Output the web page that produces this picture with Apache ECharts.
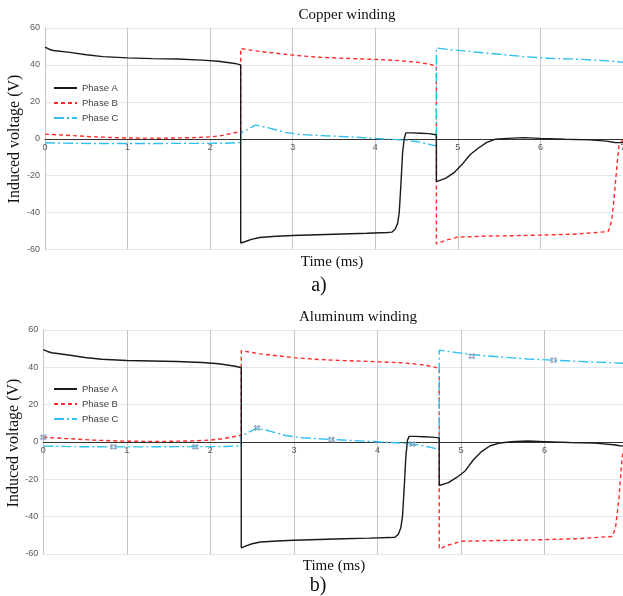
<!DOCTYPE html>
<html><head><meta charset="utf-8">
<script src="https://cdn.jsdelivr.net/npm/echarts@6/dist/echarts.min.js"></script>
<style>html,body{margin:0;padding:0;background:#fff}#c{width:623px;height:596px}</style>
</head><body><div id="c"></div>
<script>
// ---- data (time ms, voltage V) ----
const xTicks = [0,1,2,3,4,5,6,7];
const yTicks = [-60,-40,-20,0,20,40,60];
const seriesNames = ['Phase A','Phase B','Phase C'];

const copperA = [[0,49.7],[0.05,48.5],[0.1,47.8],[0.3,46.8],[0.5,45.5],[0.7,44.5],[1,43.8],[1.3,43.4],[1.6,43.2],[1.9,42.6],[2.1,42],[2.3,40.8],[2.37,40],[2.37,-56.5],[2.42,-55.8],[2.5,-54.5],[2.6,-53.5],[2.8,-52.8],[3,-52.4],[3.3,-52],[3.6,-51.6],[3.9,-51.2],[4.15,-50.8],[4.2,-50.6],[4.24,-49],[4.27,-46],[4.29,-40],[4.31,-25],[4.33,-8],[4.35,0],[4.37,3.2],[4.45,3.2],[4.55,3],[4.65,2.8],[4.74,2.2],[4.74,-23.2],[4.85,-21.5],[4.95,-18.5],[5.05,-14],[5.15,-8.5],[5.25,-5],[5.35,-2],[5.45,-0.3],[5.6,0.2],[5.8,0.6],[6,0.2],[6.3,-0.3],[6.6,-0.6],[6.8,-1.3],[6.9,-2],[7,-2.1]];
const copperB = [[0,2.5],[0.3,1.8],[0.6,1],[1,0.4],[1.4,0.3],[1.8,0.6],[2.0,1],[2.15,1.8],[2.25,2.8],[2.37,4],[2.37,48.8],[2.6,47.3],[3,45.3],[3.3,44.2],[3.6,43.6],[4,43],[4.3,42.3],[4.5,41.5],[4.65,40.5],[4.74,39.3],[4.74,-57],[4.85,-55],[5,-53.3],[5.3,-52.8],[5.7,-52.5],[6,-52.2],[6.4,-51.7],[6.82,-50.3],[6.86,-45],[6.89,-33],[6.92,-18],[6.95,-4],[6.98,-1.5],[7,-1]];
const copperC = [[0,-2.2],[0.4,-2.5],[0.8,-2.6],[1.2,-2.6],[1.6,-2.5],[2,-2.5],[2.2,-2.4],[2.37,-2],[2.37,3],[2.45,5],[2.55,7.4],[2.7,6],[2.9,3.5],[3.1,2.3],[3.4,1.6],[3.7,1],[4,0.2],[4.3,-0.6],[4.5,-1.5],[4.65,-3],[4.74,-4],[4.74,49.2],[4.9,48.3],[5.2,47],[5.5,45.8],[5.8,44.5],[6.1,43.6],[6.5,43],[6.8,42.2],[7,41.5]];

const aluA = [[0,49.5],[0.05,48.5],[0.1,47.8],[0.3,46.6],[0.5,45.3],[0.7,44.3],[1,43.7],[1.3,43.4],[1.6,43.1],[1.9,42.6],[2.1,41.9],[2.3,40.6],[2.37,39.8],[2.37,-56.7],[2.42,-55.8],[2.5,-54.5],[2.6,-53.6],[2.8,-53],[3,-52.6],[3.3,-52.2],[3.6,-51.8],[3.9,-51.5],[4.15,-51.2],[4.21,-51],[4.25,-49.5],[4.28,-46],[4.3,-40],[4.32,-25],[4.34,-8],[4.36,1],[4.38,3],[4.45,3],[4.55,2.8],[4.65,2.6],[4.74,2.2],[4.74,-23.3],[4.85,-21.8],[4.95,-19],[5.05,-15.5],[5.15,-9.5],[5.25,-5],[5.35,-2],[5.47,-0.5],[5.6,0.1],[5.8,0.5],[6,0.2],[6.3,-0.3],[6.6,-0.6],[6.83,-1.5],[6.9,-2],[7,-2.2]];
const aluB = [[0,2.5],[0.3,1.8],[0.6,1],[1,0.4],[1.4,0.3],[1.8,0.6],[2.0,1],[2.15,1.8],[2.25,2.6],[2.37,3.6],[2.37,48.9],[2.6,47.2],[3,45.2],[3.3,44.2],[3.6,43.6],[4,43],[4.3,42.4],[4.5,41.6],[4.65,40.5],[4.74,39.4],[4.74,-57.3],[4.85,-55.2],[5,-53.2],[5.3,-52.9],[5.7,-52.6],[6,-52.3],[6.4,-51.8],[6.81,-50.6],[6.85,-46],[6.89,-31],[6.93,-8],[6.96,-2],[7,-1]];
const aluC = [[0,-2.2],[0.4,-2.5],[0.8,-2.6],[1.2,-2.6],[1.6,-2.5],[2,-2.5],[2.2,-2.4],[2.37,-2],[2.37,3],[2.45,5],[2.56,7.5],[2.7,6],[2.9,3.5],[3.1,2.3],[3.45,1.3],[3.7,0.8],[4,0.1],[4.3,-0.6],[4.5,-1.6],[4.65,-3],[4.74,-4],[4.74,49.2],[4.9,48.2],[5.13,46.8],[5.5,45.5],[5.8,44.5],[6.11,43.8],[6.5,43],[6.8,42.5],[7,42]];
const aluMarkers = [[0,2.5],[0.84,-2.6],[1.82,-2.6],[2.56,7.5],[3.45,1.3],[4.42,-1.1],[5.13,46],[6.11,43.8]];

// ---- chart ----
const colA = '#1a1a1a', colB = '#ff2b2b', colC = '#2fc0f0';
const serif = "'Liberation Serif', 'DejaVu Serif', serif";
const sans = "'Liberation Sans', Arial, sans-serif";
const gridDefs = [
  {left:45, top:28, width:578, height:221.5},
  {left:43.3, top:330, width:584.7, height:224}
];

function xAx(gi){
  return {type:'value', gridIndex:gi, min:xTicks[0], max:xTicks[xTicks.length-1], interval:1,
    position:'bottom', offset:-gridDefs[gi].height/2,
    axisLine:{onZero:false, lineStyle:{color:'#333', width:1}},
    axisTick:{show:false},
    axisLabel:{fontSize:9, color:'#595959', fontFamily:sans, margin:4, showMaxLabel:true},
    splitLine:{show:true, lineStyle:{color:'#c6c6c6', width:1}}};
}
function yAx(gi){
  return {type:'value', gridIndex:gi, min:yTicks[0], max:yTicks[yTicks.length-1], interval:20,
    axisLine:{show:true, onZero:false, lineStyle:{color:'#c4c4c4'}},
    axisTick:{show:false},
    axisLabel:{fontSize:9, color:'#595959', fontFamily:sans, margin:5},
    splitLine:{show:true, lineStyle:{color:'#e1e8f0', width:1}}};
}
function lines(gi, a, b, c){
  return [
    {name:seriesNames[0], type:'line', xAxisIndex:gi, yAxisIndex:gi, data:a, showSymbol:false, symbol:'none',
      lineStyle:{color:colA, width:1.4}, itemStyle:{color:colA}, animation:false, z:3},
    {name:seriesNames[1], type:'line', xAxisIndex:gi, yAxisIndex:gi, data:b, showSymbol:false, symbol:'none',
      lineStyle:{color:colB, width:1.4, type:[4,3]}, itemStyle:{color:colB}, animation:false, z:2},
    {name:seriesNames[2], type:'line', xAxisIndex:gi, yAxisIndex:gi, data:c, showSymbol:false, symbol:'none',
      lineStyle:{color:colC, width:1.4, type:[10,3,2,3]}, itemStyle:{color:colC}, animation:false, z:2}
  ];
}
function legend(top){
  return {data:seriesNames, orient:'vertical', left:51, top:top, itemWidth:23, itemHeight:8, itemGap:5,
    backgroundColor:'#fff', padding:[3,2],
    itemStyle:{color:'rgba(0,0,0,0)', borderColor:'rgba(0,0,0,0)', borderWidth:0, opacity:0},
    textStyle:{fontSize:9.5, color:'#404040', fontFamily:sans, lineHeight:10}};
}

const chart = echarts.init(document.getElementById('c'), null, {renderer:'canvas'});
chart.setOption({
  animation:false,
  backgroundColor:'#fff',
  grid:gridDefs.map(g => Object.assign({outerBoundsMode:'none', containLabel:false}, g)),
  xAxis:[xAx(0), xAx(1)],
  yAxis:[yAx(0), yAx(1)],
  legend:[legend(80), legend(381)],
  series:[
    ...lines(0, copperA, copperB, copperC),
    ...lines(1, aluA, aluB, aluC),
    {type:'scatter', xAxisIndex:1, yAxisIndex:1, data:aluMarkers, symbol:'path://M2,0L2,8M6,0L6,8M0,2L8,2M0,6L8,6',
      symbolSize:[7,6], itemStyle:{color:'rgba(0,0,0,0)', borderColor:'#7d98b5', borderWidth:1.2}, z:5, silent:true}
  ],
  graphic:[
    {type:'text', style:{text:'Copper winding', font:'15px '+serif, fill:'#111', textAlign:'center', textVerticalAlign:'middle'}, x:347, y:15},
    {type:'text', style:{text:'Aluminum winding', font:'15px '+serif, fill:'#111', textAlign:'center', textVerticalAlign:'middle'}, x:358, y:317},
    {type:'text', style:{text:'Induced voltage (V)', font:'16px '+serif, fill:'#111', textAlign:'center', textVerticalAlign:'middle'}, x:15, y:139, rotation:Math.PI/2},
    {type:'text', style:{text:'Induced voltage (V)', font:'16px '+serif, fill:'#111', textAlign:'center', textVerticalAlign:'middle'}, x:14, y:443, rotation:Math.PI/2},
    {type:'text', style:{text:'Time (ms)', font:'15px '+serif, fill:'#111', textAlign:'center', textVerticalAlign:'middle'}, x:332, y:262},
    {type:'text', style:{text:'Time (ms)', font:'15px '+serif, fill:'#111', textAlign:'center', textVerticalAlign:'middle'}, x:334, y:566},
    {type:'text', style:{text:'a)', font:'20px '+serif, fill:'#111', textAlign:'center', textVerticalAlign:'middle'}, x:319, y:286},
    {type:'text', style:{text:'b)', font:'20px '+serif, fill:'#111', textAlign:'center', textVerticalAlign:'middle'}, x:318, y:586}
  ]
});
</script></body></html>
